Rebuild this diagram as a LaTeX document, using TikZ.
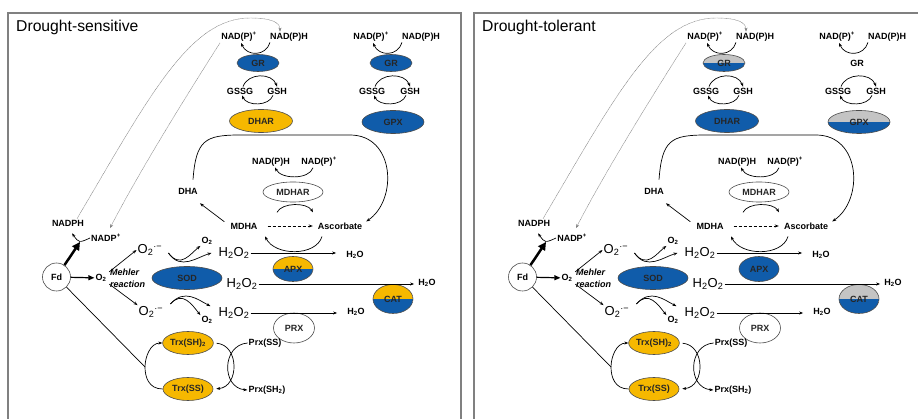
\documentclass[tikz,border=0pt]{standalone}
\usepackage{fontspec}
\setmainfont{Liberation Sans}
\usepackage{tikz}
\usetikzlibrary{shapes, arrows.meta}

\definecolor{enzblue}{RGB}{16,92,170}
\definecolor{enzgold}{RGB}{246,184,0}
\definecolor{enzgray}{RGB}{196,196,196}
\definecolor{framegray}{RGB}{128,128,128}

\tikzset{
  lbl/.style={font=\fontsize{9}{10}\selectfont\bfseries, inner sep=1pt},
  big/.style={font=\fontsize{13}{14}\selectfont, inner sep=1pt},
  enz/.style={ellipse, draw=black!70, line width=0.6pt, inner sep=0pt,
    font=\fontsize{9}{10}\selectfont\bfseries, text=black!85},
  blueenz/.style={enz, fill=enzblue},
  goldenz/.style={enz, fill=enzgold},
  whiteenz/.style={enz, fill=white},
  noenz/.style={font=\fontsize{9}{10}\selectfont\bfseries, inner sep=1pt},
  halfenz/.style 2 args={enz, path picture={
      \fill[#1] (path picture bounding box.north west) rectangle (path picture bounding box.east);
      \fill[#2] (path picture bounding box.west) rectangle (path picture bounding box.south east);}},
  arr/.style={-{Stealth[length=4pt,width=3pt]}, line width=0.7pt},
  dotline/.style={black!50, line width=0.45pt, dash pattern=on 0.8pt off 0.5pt},
}

% one panel: #1 title, #2 GR and #3 DHAR (left cycle), #4 GR and #5 GPX (right cycle), #6 APX, #7 CAT
\newcommand{\antioxpanel}[7]{%
  % Draw frame, open at the bottom
  \draw[framegray, line width=1.5pt] (8,430) -- (8,13) -- (461,13) -- (461,430);
  \node[anchor=base west, inner sep=0pt, font=\fontsize{15.7}{18}\selectfont] (title) at (16,32) {#1};

  % Draw GR / DHAR cycle
  \node[lbl] (npA) at (239,37) {NAD(P)\textsuperscript{+}};
  \node[lbl] (nhA) at (289,37) {NAD(P)H};
  \node[#2, minimum width=42pt, minimum height=17pt] (grA) at (258,63) {GR};
  \node[lbl] (gssgA) at (240,91) {GSSG};
  \node[lbl] (gshA) at (277,91) {GSH};
  \node[#3, minimum width=63pt, minimum height=23pt] (dhar) at (261,121) {DHAR};
  \draw[arr] ([xshift=-19pt]nhA.south) .. controls +(-4,14) and +(6,14) .. ([xshift=2pt]npA.south);
  \draw[arr] ([xshift=3pt]gssgA.north) .. controls +(5,-14) and +(-5,-14) .. (gshA.north);
  \draw[arr] ([xshift=-4pt]gshA.south) .. controls +(-4,11) and +(5,11) .. ([xshift=2pt]gssgA.south);

  % Draw GR / GPX cycle
  \node[lbl] (npB) at (371,37) {NAD(P)\textsuperscript{+}};
  \node[lbl] (nhB) at (421,37) {NAD(P)H};
  \node[#4, minimum width=42pt, minimum height=17pt] (grB) at (391,63) {GR};
  \node[lbl] (gssgB) at (372,91) {GSSG};
  \node[lbl] (gshB) at (410,91) {GSH};
  \node[#5, minimum width=62pt, minimum height=23pt] (gpx) at (393,122) {GPX};
  \draw[arr] ([xshift=-19pt]nhB.south) .. controls +(-4,14) and +(6,14) .. ([xshift=2pt]npB.south);
  \draw[arr] ([xshift=3pt]gssgB.north) .. controls +(5,-14) and +(-5,-14) .. (gshB.north);
  \draw[arr] ([xshift=-4pt]gshB.south) .. controls +(-4,11) and +(5,11) .. ([xshift=2pt]gssgB.south);

  % Draw MDHAR and the ascorbate cycle
  \node[lbl] (nhC) at (271,162) {NAD(P)H};
  \node[lbl] (npC) at (319,162) {NAD(P)\textsuperscript{+}};
  \node[whiteenz, minimum width=60pt, minimum height=20pt] (mdhar) at (293,192) {MDHAR};
  \node[lbl] (dha) at (188,191) {DHA};
  \node[lbl] (mdha) at (244,226) {MDHA};
  \node[lbl] (asc) at (340,226) {Ascorbate};
  \draw[arr] ([xshift=-6pt]npC.south) .. controls +(-4,12) and +(6,12) .. ([xshift=4pt]nhC.south);
  \draw[arr] ([shift={(-16,10)}]mdhar.south) .. controls +(5,-10) and +(-6,-10) .. ([shift={(20,10)}]mdhar.south);
  \draw[arr, dash pattern=on 3pt off 2pt, shorten <=9pt, shorten >=4pt] (mdha.east) -- (asc.west);
  \draw[arr] ([xshift=-5pt]mdha.north west) -- ([shift={(1,8)}]dha.south east);
  \draw[arr] ([shift={(5,-7)}]dha.north) .. controls (196,140) and (205,135) .. (240,135)
    -- (350,135) .. controls (395,135) and (398,200) .. ([xshift=3pt]asc.north east);
  \draw[arr] ([shift={(-18,6)}]asc.south) .. controls +(-6,20) and +(10,20) .. ([shift={(21,6)}]mdha.south);

  % Draw the H2O2 scavenging steps
  \node[big] (h2o2A) at (234,253) {H\textsubscript{2}O\textsubscript{2}};
  \node[big] (h2o2B) at (242,284) {H\textsubscript{2}O\textsubscript{2}};
  \node[big] (h2o2C) at (234,313) {H\textsubscript{2}O\textsubscript{2}};
  \node[lbl] (h2oA) at (355,255) {H\textsubscript{2}O};
  \node[lbl] (h2oB) at (427,283) {H\textsubscript{2}O};
  \node[lbl] (h2oC) at (356,312) {H\textsubscript{2}O};
  \node[#6, minimum width=40pt, minimum height=25pt] (apx) at (293,269) {APX};
  \node[#7, minimum width=40pt, minimum height=29pt] (cat) at (393,299) {CAT};
  \node[whiteenz, minimum width=41pt, minimum height=30pt] (prx) at (294,328) {PRX};
  \draw[arr, shorten >=9pt] (h2o2A) -- (h2o2A -| h2oA.west);
  \draw[arr, shorten >=3pt] (h2o2B) -- (h2o2B -| h2oB.west);
  \draw[arr, shorten >=9pt] (h2o2C) -- (h2o2C -| h2oC.west);

  % Draw Fd, the Mehler reaction and SOD
  \node[lbl] (nadph) at (68,223) {NADPH};
  \node[lbl] (nadp) at (106,238) {NADP\textsuperscript{+}};
  \node[circle, draw=black!70, line width=0.6pt, fill=white, minimum size=28pt, inner sep=0pt,
    font=\fontsize{9}{10}\selectfont\bfseries] (fd) at (56.5,277) {Fd};
  \node[lbl] (o2) at (101,278) {O\textsubscript{2}};
  \node[anchor=west, align=left, inner sep=0pt, font=\fontsize{9}{12}\selectfont\bfseries\itshape] (mehler) at (110,278) {Mehler\\reaction};
  \node[big] (supA) at (150,250) {O\textsubscript{2}\textsuperscript{·−}};
  \node[big] (supB) at (151,312) {O\textsubscript{2}\textsuperscript{·−}};
  \node[blueenz, minimum width=70pt, minimum height=23pt] (sod) at (187,278) {SOD};
  \node[lbl] (o2a) at (207,241) {O\textsubscript{2}};
  \node[lbl] (o2b) at (207,320) {O\textsubscript{2}};
  \coordinate (hook) at (80,242);
  \draw[line width=2.5pt, -{Triangle[length=8pt,width=8pt]}] (fd) -- (hook);
  \draw[arr] (nadp.west) .. controls (79,243) .. ([shift={(4,6)}]nadph.south);
  \draw[line width=1.2pt, -{Triangle[length=6pt,width=5pt]}] (fd) -- (o2);
  \draw[arr, shorten <=2pt] (o2.north east) -- (supA.west);
  \draw[arr, shorten <=2pt] (o2.south east) -- (supB.north west);
  \draw[arr] ([shift={(5,3)}]supA.east) .. controls +(12,16) and +(-10,8) .. (o2a.south west);
  \draw[arr] ([shift={(5,3)}]supA.east) .. controls +(12,18) and +(-14,4) .. ([xshift=-6pt]h2o2A.west);
  \draw[arr] ([shift={(6,-8)}]supB.east) .. controls +(12,-14) and +(-8,-10) .. (o2b.north west);
  \draw[arr] ([shift={(6,-8)}]supB.east) .. controls +(14,-16) and +(-12,-6) .. ([xshift=-7pt]h2o2C.north west);

  % Draw the thioredoxin / peroxiredoxin exchange
  \node[goldenz, minimum width=50pt, minimum height=23pt] (trxsh) at (188,343) {Trx(SH)\textsubscript{2}};
  \node[goldenz, minimum width=50pt, minimum height=23pt] (trxss) at (188,389) {Trx(SS)};
  \node[lbl] (prxss) at (265,343) {Prx(SS)};
  \node[lbl] (prxsh) at (267,390) {Prx(SH\textsubscript{2})};
  \coordinate (trxmid) at (145,367);
  \draw[arr] (trxss.west) .. controls +(-14,0) and +(0,10) .. (trxmid) .. controls +(0,-10) and +(-12,0) .. (trxsh.west);
  \draw[line width=0.7pt] (fd) -- (trxmid);
  \draw[arr, shorten <=3pt, shorten >=3pt] (trxsh.east) .. controls +(26,2) and +(26,-2) .. (trxss.east);
  \draw[arr] (prxss.west) .. controls +(-26,2) and +(-26,-2) .. (prxsh.west);

  % Draw NADPH / NADP+ links to the glutathione cycle
  \draw[arr, dotline] ([xshift=9pt]nadph.north) .. controls (150,95) and (190,18) .. (250,18)
    .. controls (270,18) and (280,22) .. ([xshift=-9pt]nhA.north);
  \draw[arr, dotline] (npA.south west) .. controls (190,90) and (140,170) .. ([shift={(4,-5)}]nadp.north);
}

\begin{document}
\begin{tikzpicture}[x=1pt, y=-1pt]
  \useasboundingbox (0,0) rectangle (918,419);
  \fill[white] (0,0) rectangle (918,419);
  \begin{scope}[name prefix=ds-]
    \antioxpanel{Drought-sensitive}{blueenz}{goldenz}{blueenz}{blueenz}{halfenz={enzgold}{enzblue}}{halfenz={enzgold}{enzblue}}
  \end{scope}
  \begin{scope}[xshift=466pt, name prefix=dt-]
    \antioxpanel{Drought-tolerant}{halfenz={enzgray}{enzblue}}{blueenz}{noenz}{halfenz={enzgray}{enzblue}}{blueenz}{halfenz={enzgray}{enzblue}}
  \end{scope}
\end{tikzpicture}
\end{document}
